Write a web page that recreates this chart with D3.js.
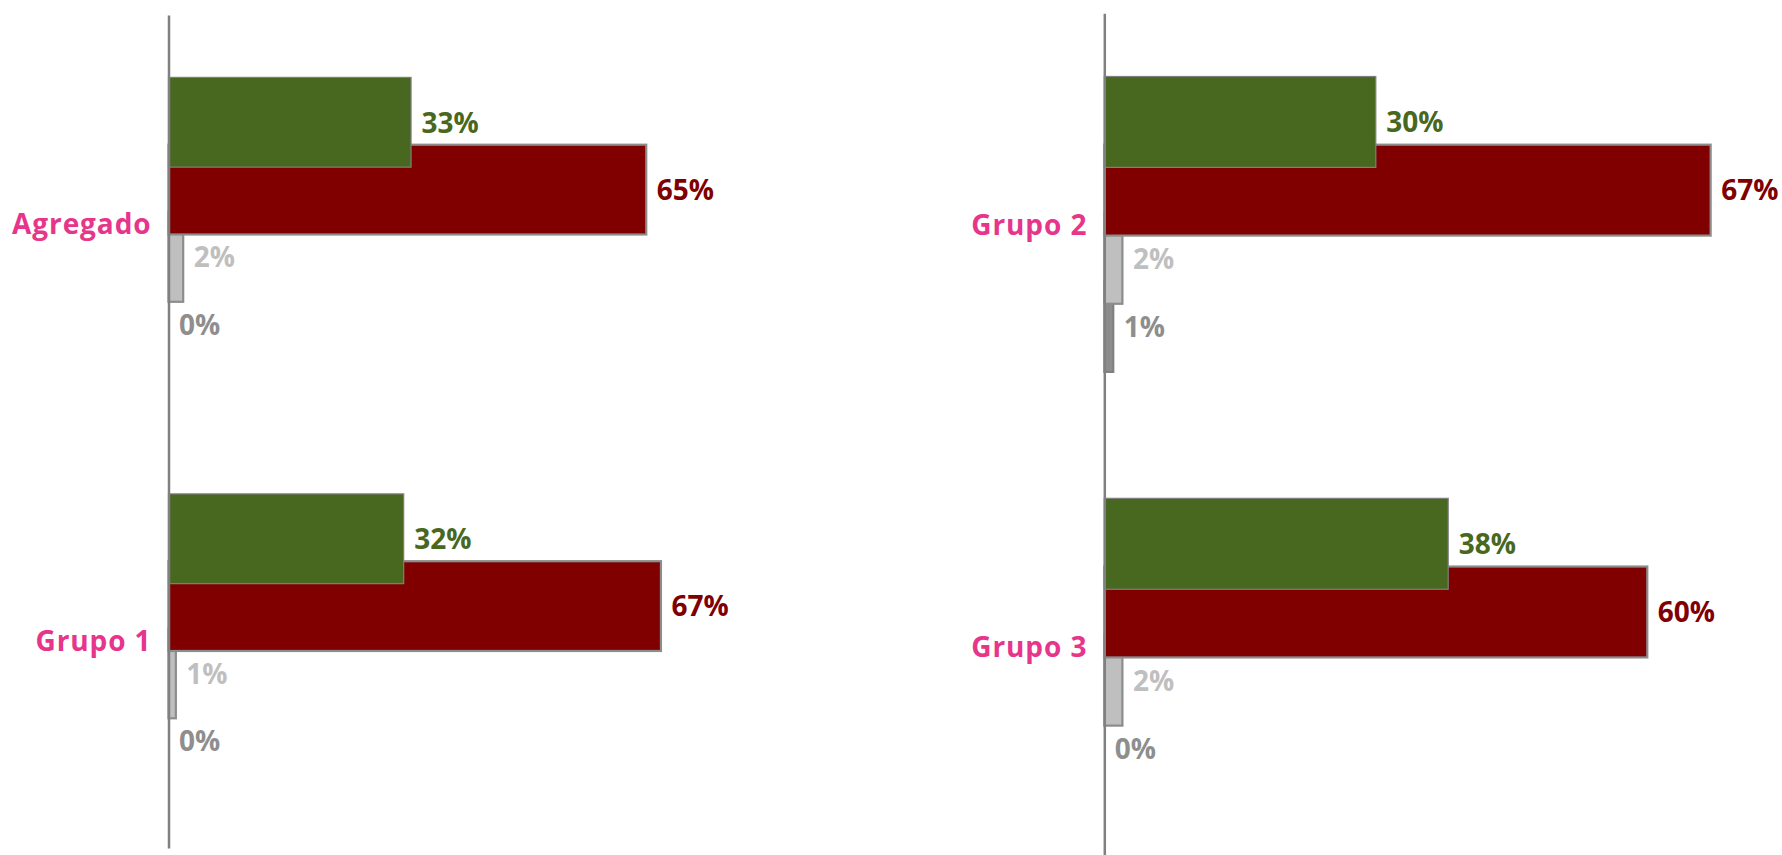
<!DOCTYPE html>
<html>
<head>
<meta charset="utf-8">
<script src="https://cdn.jsdelivr.net/npm/d3@7"></script>
<style>
  html, body { margin: 0; padding: 0; background: #ffffff; }
  svg { display: block; }
  text { font-family: "Open Sans", "Noto Sans", sans-serif; font-weight: 700; }
</style>
</head>
<body>
<svg id="chart" width="1782" height="855"></svg>
<script>
// Category names for each of the two panels
const leftCategories = ["Agregado", "Grupo 1"];
const rightCategories = ["Grupo 2", "Grupo 3"];

// Series values (percent), one array per series, in category order
const greenValues = { "Agregado": 33, "Grupo 1": 32, "Grupo 2": 30, "Grupo 3": 38 };
const redValues = { "Agregado": 65, "Grupo 1": 67, "Grupo 2": 67, "Grupo 3": 60 };
const lightGrayValues = { "Agregado": 2, "Grupo 1": 1, "Grupo 2": 2, "Grupo 3": 2 };
const darkGrayValues = { "Agregado": 0, "Grupo 1": 0, "Grupo 2": 1, "Grupo 3": 0 };

// Series styling, top to bottom within each category
const series = [
  { values: greenValues, fill: "#47681e", stroke: "#7f7f7f", strokeWidth: 1.2, label: "#47681e" },
  { values: redValues, fill: "#800000", stroke: "#8c8c8c", strokeWidth: 2.2, label: "#800000" },
  { values: lightGrayValues, fill: "#bfbfbf", stroke: "#8c8c8c", strokeWidth: 2.2, label: "#bfbfbf" },
  { values: darkGrayValues, fill: "#8c8c8c", stroke: "#7f7f7f", strokeWidth: 2, label: "#8e8e8e" }
];

const svg = d3.select("#chart");
const fmt = v => d3.format(".0%")(v / 100);

function drawPanel(cfg) {
  const g = svg.append("g");

  const x = d3.scaleLinear().domain([0, 100]).range([cfg.x0, cfg.x0 + cfg.pxPerHundred]);
  const y = d3.scaleBand().domain(cfg.categories).range([cfg.top, cfg.bottom]).padding(0);

  // Bar geometry within a band: overlapping bars (25% overlap, ~139% gap width)
  const band = y.bandwidth();
  const barH = band / 4.64;
  const step = barH * 0.75;
  const span = barH + step * (series.length - 1);
  const barY = (cat, i) => y(cat) + (band - span) / 2 + i * step;

  // Draw from the last series upward so the first one sits on top
  series.slice().reverse().forEach(s => {
    const i = series.indexOf(s);
    g.selectAll(null)
      .data(cfg.categories)
      .enter()
      .filter(c => s.values[c] > 0)
      .append("rect")
      .attr("x", x(0))
      .attr("y", c => barY(c, i))
      .attr("width", c => x(s.values[c]) - x(0))
      .attr("height", barH)
      .attr("fill", s.fill)
      .attr("stroke", s.stroke)
      .attr("stroke-width", s.strokeWidth);
  });

  // Value labels at the end of each bar
  series.forEach((s, i) => {
    g.selectAll(null)
      .data(cfg.categories)
      .enter()
      .append("text")
      .attr("x", c => x(s.values[c]) + 10.5)
      .attr("y", c => barY(c, i) + barH / 2)
      .attr("dy", "0.37em")
      .attr("font-size", 28)
      .attr("fill", s.label)
      .text(c => fmt(s.values[c]));
  });

  // Category axis: a plain vertical line with the category names to its left
  const axis = d3.axisLeft(y).tickSize(0).tickSizeOuter(0).tickPadding(17);
  const ax = g.append("g").attr("transform", `translate(${cfg.x0},0)`).call(axis);
  ax.select(".domain").attr("stroke", "#808080").attr("stroke-width", 2.5);
  ax.selectAll(".tick text")
    .attr("dy", "0.39em")
    .attr("font-size", 28)
    .attr("letter-spacing", "0.9px")
    .attr("font-family", "'Open Sans', 'Noto Sans', sans-serif")
    .attr("font-weight", 700)
    .attr("fill", "#e6358b");
}

drawPanel({ categories: leftCategories, x0: 168.5, pxPerHundred: 735, top: 15, bottom: 848 });
drawPanel({ categories: rightCategories, x0: 1104.3, pxPerHundred: 905, top: 13.3, bottom: 857 });
</script>
</body>
</html>
